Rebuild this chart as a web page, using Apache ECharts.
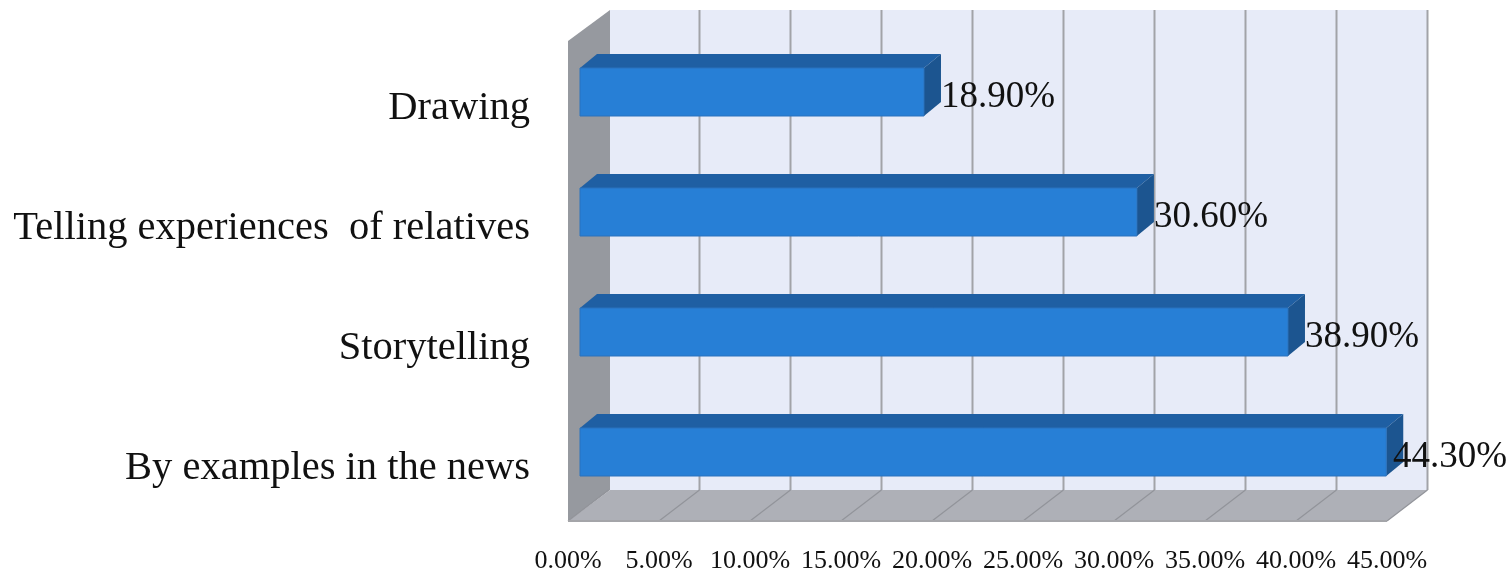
<!DOCTYPE html>
<html>
<head>
<meta charset="utf-8">
<style>html,body{margin:0;padding:0;background:#fff}#c{width:1511px;height:573px}</style>
<script src="https://cdn.jsdelivr.net/npm/echarts@6/dist/echarts.min.js"></script>
</head>
<body>
<div id="c"></div>
<script>
const categories = ['Drawing', 'Telling experiences  of relatives', 'Storytelling', 'By examples in the news'];
const percentValues = [18.9, 30.6, 38.9, 44.3];
const axisMin = 0;
const axisMax = 45;
const axisStep = 5;

const FONT = '"Liberation Serif", serif';
const wallDX = 40.5, wallDY = -31;     // depth of the chart box
const leftWallDX = 42;
const barDX = 12, barDY = -9;          // where the bar front sits inside the box
const barDepthX = 17, barDepthY = -14; // depth of each bar
const barHeight = 48;

function poly(points, fill, extra) {
  return Object.assign({ type: 'polygon', shape: { points: points }, style: { fill: fill } }, extra || {});
}
function line(x1, y1, x2, y2, stroke, w) {
  return { type: 'line', shape: { x1, y1, x2, y2 }, style: { stroke: stroke, lineWidth: w } };
}

function renderBox(params, api) {
  const g = params.coordSys;
  const L = g.x, R = g.x + g.width, T = g.y, B = g.y + g.height;
  const c = [];
  c.push(poly([[L + leftWallDX, T + wallDY], [R + wallDX, T + wallDY], [R + wallDX, B + wallDY], [L + leftWallDX, B + wallDY]], '#e7ebf8'));
  c.push(poly([[L, T], [L + leftWallDX, T + wallDY], [L + leftWallDX, B + wallDY], [L, B]], '#96999f'));
  c.push(poly([[L, B], [L + leftWallDX, B + wallDY], [R + wallDX, B + wallDY], [R, B]], '#aeb0b7'));
  for (let t = axisMin; t <= axisMax; t += axisStep) {
    const x = api.coord([t, 0])[0];
    if (t > axisMin) {
      c.push(line(x + wallDX, T + wallDY, x + wallDX, B + wallDY, '#a2a3a8', 2));
    }
    c.push(line(x, B, x + wallDX, B + wallDY, '#92949a', 1.2));
  }
  c.push(line(L, B, R, B, '#a4a5a9', 2));
  return { type: 'group', children: c };
}

function renderBar(params, api) {
  const p0 = api.coord([0, api.value(1)]);
  const p1 = api.coord([api.value(0), api.value(1)]);
  const xa = p0[0] + barDX, xb = p1[0] + barDX;
  const yc = p0[1] + barDY;
  const yt = yc - barHeight / 2, yb = yc + barHeight / 2;
  const g = params.coordSys;
  const labelX = Math.min(xb + 17, g.x + g.width + 6);
  return {
    type: 'group',
    children: [
      poly([[xa, yt], [xa + barDepthX, yt + barDepthY], [xb + barDepthX, yt + barDepthY], [xb, yt]], '#1f5fa3'),
      poly([[xb, yt], [xb + barDepthX, yt + barDepthY], [xb + barDepthX, yb + barDepthY], [xb, yb]], '#1c5590'),
      { type: 'rect', shape: { x: xa, y: yt, width: xb - xa, height: barHeight },
        style: { fill: '#277fd6', stroke: '#2a72bd', lineWidth: 1 } },
      { type: 'text', x: labelX, y: yc + 5,
        style: { text: api.value(0).toFixed(2) + '%', fill: '#111', font: '37px ' + FONT,
                 textAlign: 'left', textVerticalAlign: 'middle' } }
    ]
  };
}

const chart = echarts.init(document.getElementById('c'), null, { renderer: 'canvas' });
chart.setOption({
  animation: false,
  backgroundColor: '#fff',
  grid: { left: 568, right: 124, top: 41, bottom: 52, outerBoundsMode: 'none' },
  xAxis: {
    type: 'value', min: axisMin, max: axisMax, interval: axisStep,
    axisLine: { show: false }, axisTick: { show: false }, splitLine: { show: false },
    axisLabel: { formatter: v => v.toFixed(2) + '%', color: '#111', fontFamily: FONT, fontSize: 26, margin: 27, hideOverlap: false }
  },
  yAxis: {
    type: 'category', inverse: true, data: categories,
    axisLine: { show: false }, axisTick: { show: false }, splitLine: { show: false },
    axisLabel: { color: '#111', fontFamily: FONT, fontSize: 40.5, margin: 38, verticalAlign: 'top', lineHeight: 14 }
  },
  series: [
    { type: 'custom', z: 1, silent: true, clip: false, renderItem: renderBox, data: [[0, 0]], encode: { x: 0, y: 1 } },
    { type: 'custom', z: 2, clip: false, renderItem: renderBar,
      data: percentValues.map((v, i) => [v, i]), encode: { x: 0, y: 1 } }
  ]
});
</script>
</body>
</html>
